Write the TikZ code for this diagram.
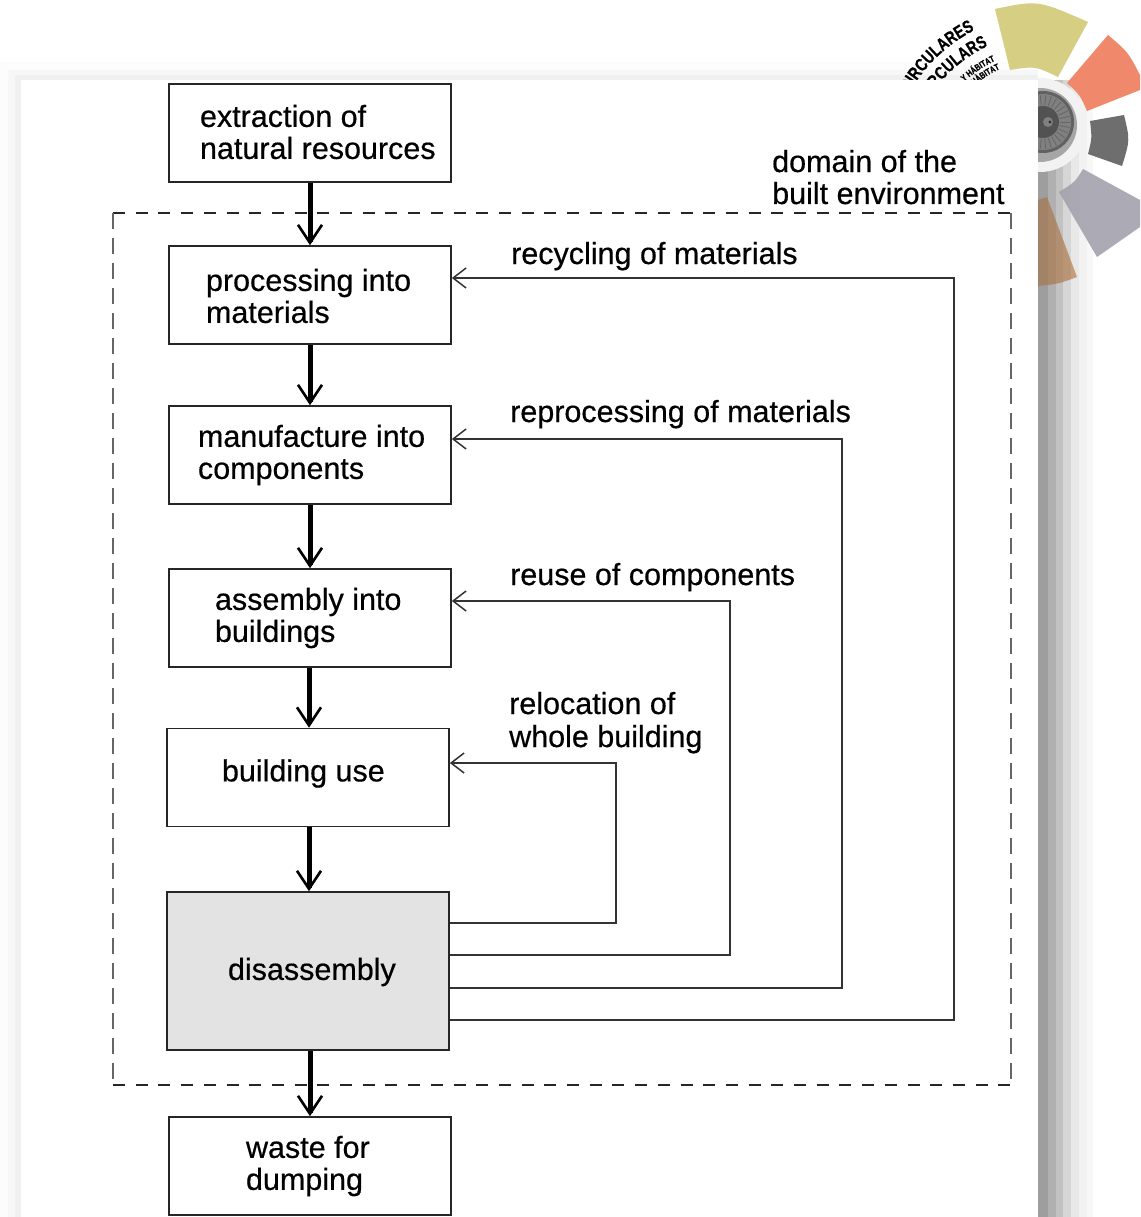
\documentclass[tikz,border=0pt]{standalone}
\usepackage{fontspec}
\setmainfont[FakeBold=0.5]{Liberation Sans}
\newfontfamily\logofont[FakeStretch=0.78,FakeBold=0.6]{Liberation Sans}
\usetikzlibrary{arrows.meta,decorations.text}
\definecolor{wyellow}{HTML}{D6CE82}
\definecolor{wsalmon}{HTML}{F0896C}
\definecolor{wgray}{HTML}{6E6E6E}
\definecolor{wlav}{HTML}{A3A2AE}
\definecolor{wtan}{HTML}{C49E7C}
\newcommand{\boxtxt}[4]{\makebox[282pt][l]{\hspace{#1pt}\parbox[c]{248pt}{\baselineskip=32pt\relax\vspace*{#2pt}#4\par\vspace*{#3pt}}}}
\tikzset{
 flow/.style={draw=black!85,line width=1.7pt,minimum width=282pt,minimum height=98pt,inner sep=0pt,fill=white,font=\fontsize{30.5}{32}\selectfont},
 mainarrow/.style={draw=black,line width=5pt,-{Straight Barb[length=18pt,width=24pt,line width=2.6pt]}},
 back/.style={draw=black!80,line width=1.6pt,-{Straight Barb[length=13pt,width=20pt,line width=1.5pt]}},
 lbl/.style={anchor=base west,inner sep=0pt,font=\fontsize{30.5}{32}\selectfont,align=left},
 dashh/.style={draw=black!85,line width=1.7pt,dash pattern=on 12pt off 10.7pt},
 dashv/.style={draw=black!60,line width=1.6pt,dash pattern=on 16pt off 9pt},
 shade/.style={fill=black!#1}
}
\begin{document}
\begin{tikzpicture}[x=1pt,y=-1pt]
\useasboundingbox (0,0) rectangle (1140,1217);
\fill[white] (0,0) rectangle (1140,1217);
% panel shadow
\fill[shade=1] (0,62) rectangle (1038,80);
\fill[shade=3] (8,70) rectangle (1038,80);
\fill[shade=6] (15,75) rectangle (1038,80);
\fill[shade=1] (0,62) rectangle (8,1217);
\fill[shade=3] (8,70) rectangle (15,1217);
\fill[shade=6] (15,75) rectangle (21,1217);
\fill[shade=38] (1038,80) rectangle (1048,1217);
\fill[shade=31] (1048,80) rectangle (1056,1217);
\fill[shade=24] (1056,80) rectangle (1063,1217);
\fill[shade=16] (1063,80) rectangle (1071,1217);
\fill[shade=9] (1071,80) rectangle (1079,1217);
\fill[shade=5] (1079,80) rectangle (1087,1217);
\fill[shade=3] (1087,80) rectangle (1093,1217);
% eye halo
\fill[black!5] (1040,125) circle (47);
% logo wedges
\fill[wyellow] (995,9) .. controls (1038,0) .. (1088,22) -- (1058,77) .. controls (1035,66) .. (1010,70) -- cycle;
\fill[wsalmon] (1108,35) .. controls (1128,52) .. (1140,75) -- (1140,90) -- (1087,111) .. controls (1080,95) .. (1067,83) -- cycle;
\fill[wgray] (1090,121) -- (1124,115) .. controls (1130,140) .. (1122,166) -- (1088,154) .. controls (1092,138) .. cycle;
\fill[wlav,fill opacity=.9] (1083,169) -- (1140,200) -- (1140,227) -- (1097,257) -- (1059,192) .. controls (1075,182) .. cycle;
\fill[wtan] (1038,200) -- (1047,197) -- (1077,277) .. controls (1058,284) .. (1038,286) -- cycle;
\begin{scope}
\clip (1038,200) -- (1047,197) -- (1077,277) .. controls (1058,284) .. (1038,286) -- cycle;
\fill[black,fill opacity=.17] (1038,190) rectangle (1048,290);
\fill[black,fill opacity=.13] (1048,190) rectangle (1056,290);
\fill[black,fill opacity=.09] (1056,190) rectangle (1063,290);
\fill[black,fill opacity=.05] (1063,190) rectangle (1071,290);
\end{scope}
% eye
\fill[black!35] (1040,125) circle (37);
\fill[black!62] (1043,122) circle (31);
\fill[black!50] (1043,122) circle (28);
\foreach \a in {0,12,...,348} {\draw[black!60,line width=.8pt] (1043,122) ++(\a:17) -- ++(\a:10);}
\fill[black!68] (1043,122) circle (16);
\fill[black!50] (1048,122) circle (5);
\fill[black!80] (1050,122) circle (1.6);
% curved logo text
\path[postaction={decorate},decoration={text along path,text align=right,text={|\fontsize{18}{18}\selectfont\logofont\bfseries|CIRCULARES}}] (889,170) arc[start angle=180,end angle=243,radius=157];
\path[postaction={decorate},decoration={text along path,text align=right,text={|\fontsize{18}{18}\selectfont\logofont\bfseries|CIRCULARS}}] (909,170) arc[start angle=180,end angle=245,radius=137];
\path[postaction={decorate},decoration={text along path,text align=right,text={|\fontsize{9}{9}\selectfont\logofont\bfseries|Y HÁBITAT}}] (925.6,170) arc[start angle=180,end angle=245,radius=120.4];
\path[postaction={decorate},decoration={text along path,text align=right,text={|\fontsize{9}{9}\selectfont\logofont\bfseries|I HÀBITAT}}] (935,170) arc[start angle=180,end angle=245.5,radius=111];
% panel
\fill[white] (21,80) rectangle (1038,1217);
% domain
\node[lbl] (domain) at (772,172) {domain of the};
\node[lbl] (built) at (772,204) {built environment};
\coordinate (nw) at (113,213); \coordinate (ne) at (1011,213);
\coordinate (sw) at (113,1085); \coordinate (se) at (1011,1085);
\draw[dashh] (nw) -- (ne);
\draw[dashh] (sw) -- (se);
\draw[dashv] (nw) -- (sw);
\draw[dashv] (ne) -- (se);
% boxes
\node[flow] (ext) at (310,133) {\boxtxt{31}{0}{2}{extraction of\\natural resources}};
\node[flow] (pro) at (310,295) {\boxtxt{37}{2}{0}{processing into\\materials}};
\node[flow] (man) at (310,455) {\boxtxt{29}{0}{0}{manufacture into\\components}};
\node[flow] (ass) at (310,618) {\boxtxt{46}{0}{0}{assembly into\\buildings}};
\node[flow] (use) at (308,777.5) {\boxtxt{55}{0}{8}{building use}};
\node[flow,minimum height=158pt,fill=black!11] (dis) at (308,971) {\boxtxt{61}{2}{0}{disassembly}};
\node[flow] (was) at (310,1166) {\boxtxt{77}{0}{0}{waste for\\dumping}};
% main arrows
\draw[mainarrow] (ext) -- (pro);
\draw[mainarrow] (pro) -- (man);
\draw[mainarrow] (man) -- (ass);
\draw[mainarrow] (ass.south -| 309,0) -- (use.north -| 309,0);
\draw[mainarrow] (use.south -| 309,0) -- (dis.north -| 309,0);
\draw[mainarrow] (dis.south -| 310,0) -- (was.north -| 310,0);
% feedback
\coordinate (a1) at (616,923); \coordinate (a2) at (616,763);
\coordinate (b1) at (730,955); \coordinate (b2) at (730,601);
\coordinate (c1) at (842,988); \coordinate (c2) at (842,439);
\coordinate (d1) at (954,1020); \coordinate (d2) at (954,278);
\draw[back] (dis.east |- a1) -- (a1) -- (a2) -- (use.east |- a2);
\draw[back] (dis.east |- b1) -- (b1) -- (b2) -- (ass.east |- b2);
\draw[back] (dis.east |- c1) -- (c1) -- (c2) -- (man.east |- c2);
\draw[back] (dis.east |- d1) -- (d1) -- (d2) -- (pro.east |- d2);
% labels
\node[lbl] (l1) at (511,264) {recycling of materials};
\node[lbl] (l2) at (510,422) {reprocessing of materials};
\node[lbl] (l3) at (510,585) {reuse of components};
\node[lbl] (l4) at (509,714) {relocation of};
\node[lbl] (l5) at (509,747) {whole building};
\end{tikzpicture}
\end{document}
